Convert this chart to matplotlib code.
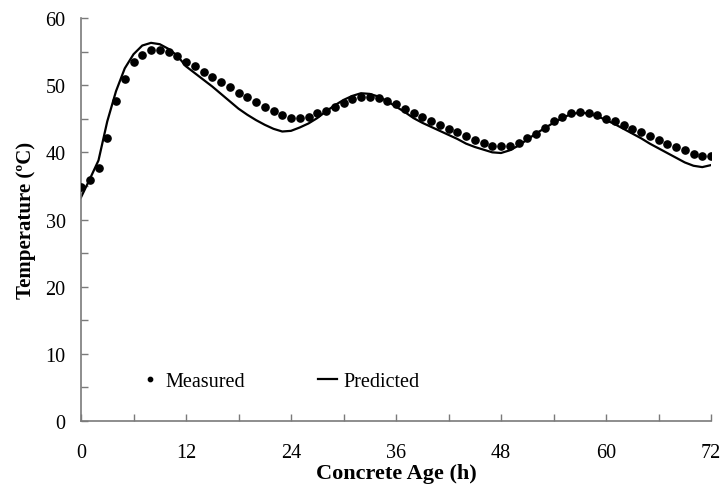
import matplotlib
matplotlib.use("Agg")
import matplotlib.pyplot as plt
from matplotlib.ticker import MultipleLocator

plt.rcParams['font.family'] = ['Liberation Serif', 'DejaVu Serif']

hours_measured = list(range(0, 73))
measured = [34.9, 35.9, 37.6, 42.1, 47.6, 50.9, 53.4, 54.5, 55.3, 55.3,
            54.9, 54.4, 53.4, 52.8, 52.0, 51.2, 50.5, 49.8, 48.8, 48.2,
            47.5, 46.7, 46.1, 45.6, 45.1, 45.1, 45.2, 45.8, 46.2, 46.8,
            47.4, 47.9, 48.3, 48.3, 48.1, 47.7, 47.2, 46.5, 45.9, 45.2,
            44.7, 44.1, 43.5, 43.0, 42.5, 41.9, 41.4, 41.0, 40.9, 41.0,
            41.4, 42.2, 42.8, 43.6, 44.7, 45.2, 45.8, 46.0, 45.9, 45.5,
            45.0, 44.6, 44.0, 43.5, 43.0, 42.4, 41.9, 41.3, 40.8, 40.3,
            39.8, 39.5, 39.4]

hours_predicted = list(range(0, 73))
predicted = [33.3, 36.0, 38.8, 44.6, 49.1, 52.5, 54.6, 55.9, 56.3, 56.1,
             55.4, 54.4, 52.8, 51.8, 50.8, 49.8, 48.7, 47.6, 46.5, 45.6,
             44.8, 44.1, 43.5, 43.1, 43.2, 43.7, 44.3, 45.1, 46.1, 47.0,
             47.8, 48.4, 48.8, 48.7, 48.3, 47.6, 46.8, 46.0, 45.1, 44.4,
             43.8, 43.2, 42.6, 42.0, 41.3, 40.8, 40.4, 40.0, 39.9, 40.3,
             41.0, 41.9, 42.8, 43.6, 44.4, 45.1, 45.7, 45.9, 45.8, 45.4,
             44.8, 44.2, 43.5, 42.8, 42.1, 41.3, 40.6, 39.9, 39.2, 38.5,
             38.0, 37.8, 38.1]

x_ticks = [0, 12, 24, 36, 48, 60, 72]
y_ticks = [0, 10, 20, 30, 40, 50, 60]

fig = plt.figure(figsize=(7.25, 4.89), dpi=100)
ax = fig.add_axes([81/725, 67/489, 630/725, 403/489])

ax.plot(hours_predicted, predicted, color='black', lw=1.6, label='Predicted', zorder=2)
ax.plot(hours_measured, measured, linestyle='none', marker='o', ms=5.2,
        color='black', label='Measured', zorder=3)

ax.set_xlim(0, 72)
ax.set_ylim(0, 60)
ax.set_xticks(x_ticks)
ax.set_yticks(y_ticks)
ax.xaxis.set_minor_locator(MultipleLocator(6))
ax.yaxis.set_minor_locator(MultipleLocator(5))

for s in ['top', 'right']:
    ax.spines[s].set_visible(False)
for s in ['left', 'bottom']:
    ax.spines[s].set_color('#7a7a7a')
    ax.spines[s].set_linewidth(1.2)

ax.tick_params(axis='both', which='both', direction='in', length=5,
               color='#7a7a7a', width=1.0, labelsize=14.5)
ax.tick_params(axis='x', which='major', pad=15.5)
ax.tick_params(axis='y', which='major', pad=11)

ax.set_xlabel('Concrete Age (h)', fontsize=16, fontweight='bold', labelpad=1)
ax.set_ylabel('Temperature (ºC)', fontsize=15, fontweight='bold', labelpad=7)

h, l = ax.get_legend_handles_labels()
leg = ax.legend([h[1], h[0]], [l[1], l[0]], ncol=2, frameon=False,
                loc='center left', bbox_to_anchor=(0.0937, 0.097),
                fontsize=14.5, handlelength=0.95, handletextpad=0.3,
                columnspacing=3.65, borderpad=0, borderaxespad=0,
                markerscale=0.6)

fig.savefig('out.png', dpi=100)
